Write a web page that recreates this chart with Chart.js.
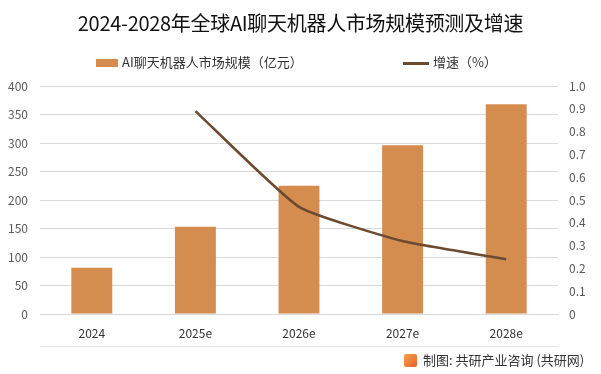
<!DOCTYPE html>
<html>
<head>
<meta charset="utf-8">
<script src="https://cdn.jsdelivr.net/npm/chart.js@4/dist/chart.umd.min.js"></script>
<style>
body{margin:0;background:#fff;}
#wrap{position:relative;width:601px;height:374px;overflow:hidden;font-family:"Noto Sans CJK SC","Noto Sans",sans-serif;}
#title{position:absolute;left:0;top:8px;width:601px;text-align:center;font-size:20px;color:#111;letter-spacing:-0.3px;}
.lg{position:absolute;top:54px;font-size:13px;color:#333;line-height:16px;}
.lg i{display:inline-block;vertical-align:middle;margin-right:4px;}
#foot{position:absolute;left:404px;top:352px;font-size:13px;color:#333;line-height:16px;}
#foot i{display:inline-block;width:13px;height:13px;background:linear-gradient(135deg,#f7a04a,#e8602a);vertical-align:-2px;margin-right:6px;border-radius:2px;}
#rule{position:absolute;left:40px;top:346px;width:518px;height:1px;background:#e3e3e3;}
canvas{position:absolute;left:0;top:0;}
</style>
</head>
<body>
<div id="wrap">
<canvas id="c" width="601" height="374"></canvas>
<div id="title">2024-2028年全球AI聊天机器人市场规模预测及增速</div>
<div class="lg" style="left:96px"><i style="width:22px;height:8px;background:#d48c4f"></i>AI聊天机器人市场规模（亿元）</div>
<div class="lg" style="left:403px"><i style="width:26px;height:3px;background:#6b4a30"></i>增速（%）</div>
<div id="rule"></div>
<div id="foot"><i></i>制图: 共研产业咨询 (共研网)</div>
</div>
<script>
const years=['2024','2025e','2026e','2027e','2028e'];
const marketSize=[81,153,225,296,368];
const growth=[null,0.89,0.47,0.32,0.24];

Chart.defaults.font.family='"Noto Sans CJK SC","Noto Sans",sans-serif';
Chart.defaults.font.size=12;

new Chart(document.getElementById('c'),{
type:'bar',
data:{
labels:years,
datasets:[{
type:'line',
label:'增速（%）',
data:growth,
yAxisID:'y1',
borderColor:'#6b4a30',
borderWidth:2.5,
pointRadius:0,
tension:0.15,
order:0
},{
label:'AI聊天机器人市场规模（亿元）',
data:marketSize,
yAxisID:'y',
backgroundColor:'#d48c4f',
barPercentage:0.395,
categoryPercentage:1,
order:1
}]
},
options:{
responsive:false,
animation:false,
layout:{padding:{top:86,left:0,right:0,bottom:0}},
plugins:{legend:{display:false},tooltip:{enabled:false}},
scales:{
x:{
grid:{display:false},
border:{color:'#d9d9d9'},
ticks:{color:'#333',padding:4},
afterFit:function(a){a.height=60;}
},
y:{
position:'left',
min:0,max:400,
ticks:{stepSize:50,color:'#595959',padding:12},
grid:{color:'#d9d9d9',drawTicks:false},
border:{display:false},
afterFit:function(a){a.width=40;}
},
y1:{
position:'right',
min:0,max:1,
ticks:{stepSize:0.1,color:'#595959',padding:11},
grid:{display:false,drawTicks:false},
border:{display:false},
afterFit:function(a){a.width=43;}
}
}
}
});
</script>
</body>
</html>
